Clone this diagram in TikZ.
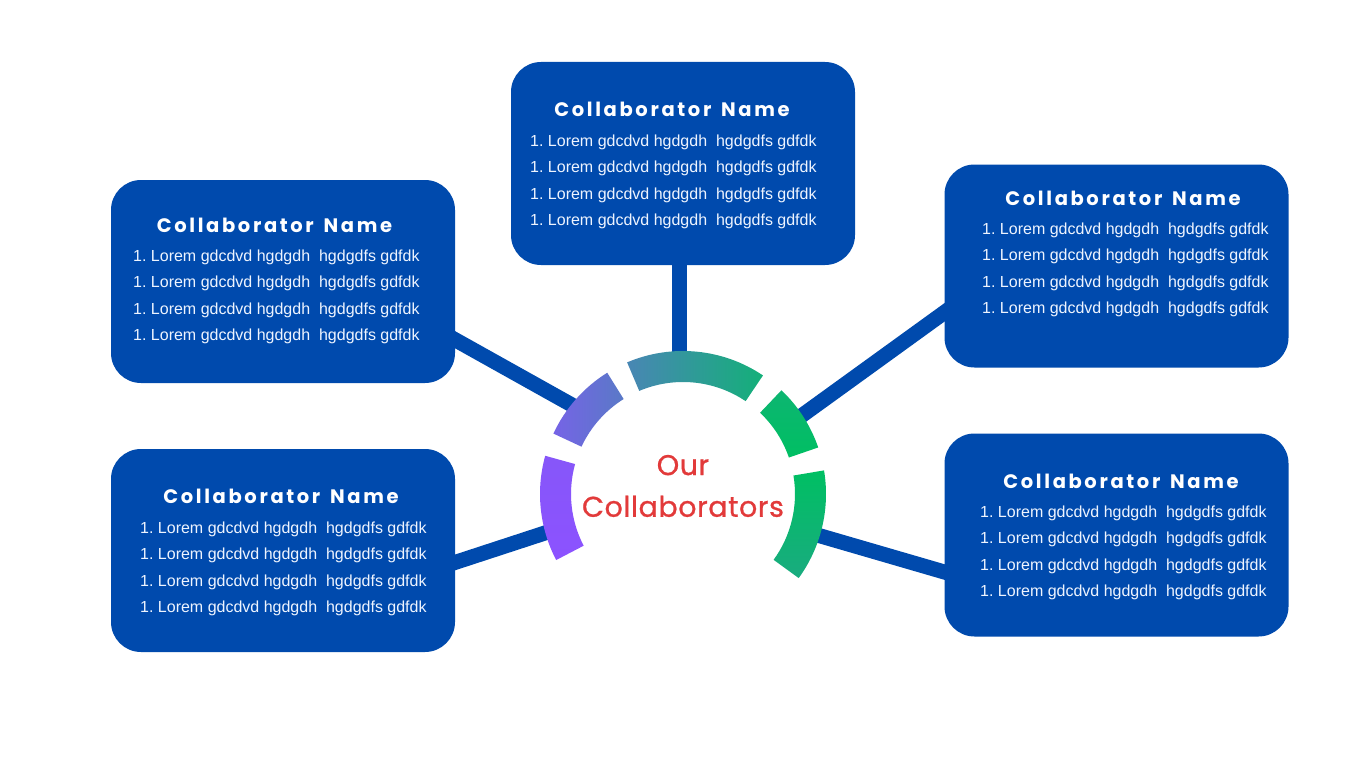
\documentclass[tikz,border=0pt]{standalone}
\usepackage{fontspec}
\setmainfont{Liberation Sans}
\newfontfamily\titlefont[LetterSpace=13.5]{Poppins}
\newfontfamily\centerfont[FakeBold=0.8,LetterSpace=2]{Poppins}
\usetikzlibrary{calc}
\pgfdeclarelayer{background}
\pgfsetlayers{background,main}
\definecolor{cblue}{HTML}{004AAD}
\definecolor{cpurple}{HTML}{8C52FF}
\definecolor{cgreen}{HTML}{00BF63}
\definecolor{cred}{HTML}{E23A3A}
\definecolor{ctext}{HTML}{EEF4FF}
\frenchspacing
\newcommand\CollabBox[5]{%
  \node[box] (#1) at (#2) {};
  \node[ttl] (#1-t) at (#3) {Collaborator\hspace{3pt} Name};
  \foreach \i in {0,...,3}{%
    \node[item] (#1-\i) at (#4,{#5+26.5*\i}) {1. Lorem gdcdvd hgdgdh\ \ hgdgdfs gdfdk};
  }%
}
\begin{document}
\begin{tikzpicture}[x=1pt,y=-1pt,
  box/.style={fill=cblue, rounded corners=30pt, minimum width=344pt, minimum height=203pt, inner sep=0pt},
  conn/.style={draw=cblue, line width=15pt},
  ttl/.style={text=white, font=\titlefont\bfseries\fontsize{19.5}{20}\selectfont, inner sep=0pt},
  item/.style={text=ctext, font=\fontsize{16}{18}\selectfont, inner sep=0pt, anchor=west},
  ]
\useasboundingbox (0,0) rectangle (1366,768);

% boxes
\CollabBox{top}{683,163.5}{672,109}{530}{142}
\CollabBox{lt}{283,281.5}{274.5,225}{133}{257}
\CollabBox{rt}{1116.5,266}{1123,198}{982}{230}
\CollabBox{lb}{283,550.5}{281,496}{140}{529}
\CollabBox{rb}{1116.5,535}{1121,481}{980}{513}

% connector end points
\coordinate (top-a) at (679,250);
\coordinate (top-r) at (679,372);
\coordinate (lt-a) at (430,325.7);
\coordinate (lt-r) at (580,409.5);
\coordinate (rt-a) at (965,297.5);
\coordinate (rt-r) at (795,420.5);
\coordinate (lb-a) at (435,569);
\coordinate (lb-r) at (555,529.7);
\coordinate (rb-a) at (966,578.3);
\coordinate (rb-r) at (810,532.9);

\begin{pgfonlayer}{background}
  \fill[white] (0,0) rectangle (1366,768);
  \draw[conn] (top-a) -- (top-r);
  \draw[conn] (lt-a) -- (lt-r);
  \draw[conn] (rt-a) -- (rt-r);
  \draw[conn] (lb-a) -- (lb-r);
  \draw[conn] (rb-a) -- (rb-r);
\end{pgfonlayer}

% ring
\begin{scope}[shift={(683pt,-494pt)}, x=1pt, y=1pt]
  \shade[top color=cpurple!96!cgreen, bottom color=cpurple]
    (164.5:143) arc[start angle=164.5, end angle=207.5, radius=143]
    -- (207.5:112) arc[start angle=207.5, end angle=164.5, radius=112] -- cycle;
  \shade[left color=cpurple!84!cgreen, right color=cpurple!64!cgreen]
    (122:143) arc[start angle=122, end angle=155, radius=143]
    -- (155:112) arc[start angle=155, end angle=122, radius=112] -- cycle;
  \shade[left color=cpurple!52!cgreen, right color=cpurple!14!cgreen]
    (56:143) arc[start angle=56, end angle=113, radius=143]
    -- (113:112) arc[start angle=113, end angle=56, radius=112] -- cycle;
  \shade[top color=cpurple!9!cgreen, bottom color=cgreen]
    (19:143) arc[start angle=19, end angle=46.5, radius=143]
    -- (46.5:112) arc[start angle=46.5, end angle=19, radius=112] -- cycle;
  \shade[top color=cgreen, bottom color=cpurple!18!cgreen]
    (-36:143) arc[start angle=-36, end angle=9.5, radius=143]
    -- (9.5:112) arc[start angle=9.5, end angle=-36, radius=112] -- cycle;
\end{scope}

\node[text=cred, align=center, inner sep=0pt,
  font=\centerfont\fontsize{28.5}{41.7}\selectfont] (ctr) at (683,486) {Our\\Collaborators};
\end{tikzpicture}
\end{document}
